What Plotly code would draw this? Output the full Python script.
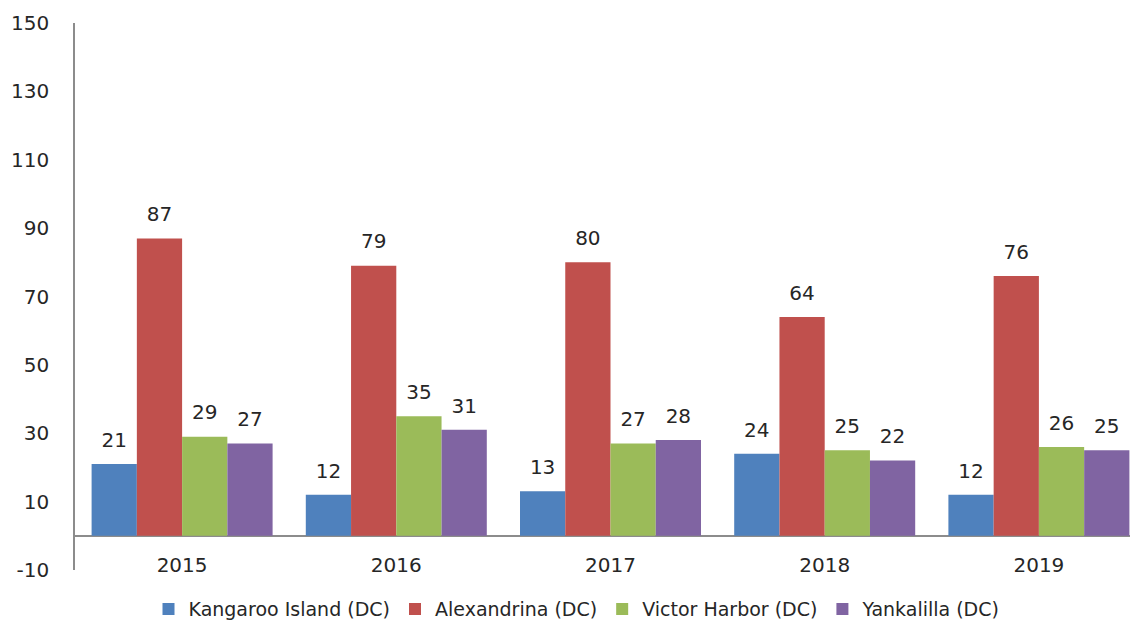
import plotly.graph_objects as go

years = ["2015", "2016", "2017", "2018", "2019"]
series_names = ["Kangaroo Island (DC)", "Alexandrina (DC)", "Victor Harbor (DC)", "Yankalilla (DC)"]
kangaroo = [21, 12, 13, 24, 12]
alexandrina = [87, 79, 80, 64, 76]
victor = [29, 35, 27, 25, 26]
yankalilla = [27, 31, 28, 22, 25]
colors = ["#4F81BD", "#C0504D", "#9BBB59", "#8064A2"]
y_ticks = [-10, 10, 30, 50, 70, 90, 110, 130, 150]
y_tick_labels = ["-10", "10", "30", "50", "70", "90", "110", "130", "150"]

font_family = "DejaVu Sans, sans-serif"
text_color = "#262626"

fig = go.Figure()
all_series = [kangaroo, alexandrina, victor, yankalilla]
for name, vals, col in zip(series_names, all_series, colors):
    fig.add_trace(go.Bar(
        x=years, y=vals, name=name, marker_color=col, marker_line_width=0,
    ))
# value labels, aligned with the bars via scattermode="group"
for name, vals in zip(series_names, all_series):
    fig.add_trace(go.Scatter(
        x=years, y=vals, mode="markers+text", text=[str(v) for v in vals],
        textposition="top center", showlegend=False, hoverinfo="skip",
        marker=dict(size=18, color="rgba(0,0,0,0)"), cliponaxis=False,
        textfont=dict(size=20, color=text_color, family=font_family),
    ))

fig.update_layout(
    width=1138, height=616,
    margin=dict(l=67, r=0, t=14.5, b=54.3, autoexpand=False),
    paper_bgcolor="white", plot_bgcolor="white",
    barmode="group", bargap=0.155, bargroupgap=0,
    scattermode="group", scattergap=0.155,
    font=dict(family=font_family, size=20, color=text_color),
    showlegend=True,
    legend=dict(orientation="h", x=0.5, xanchor="center", xref="container",
                y=0.024, yanchor="middle", yref="container",
                font=dict(size=19, color=text_color), traceorder="normal"),
    xaxis=dict(showline=False, showgrid=False, ticks="", anchor="free", position=0.034,
               tickfont=dict(size=20), automargin=False),
    yaxis=dict(range=[-10, 150], tickvals=y_ticks, ticktext=y_tick_labels,
               showgrid=False, zeroline=True,
               zerolinecolor="#8c8c8c", zerolinewidth=1.5, showline=True,
               linecolor="#8c8c8c", linewidth=1.5, ticks="", tickfont=dict(size=20),
               ticklabelstandoff=20, automargin=False),
)

fig.write_html("out.html")
